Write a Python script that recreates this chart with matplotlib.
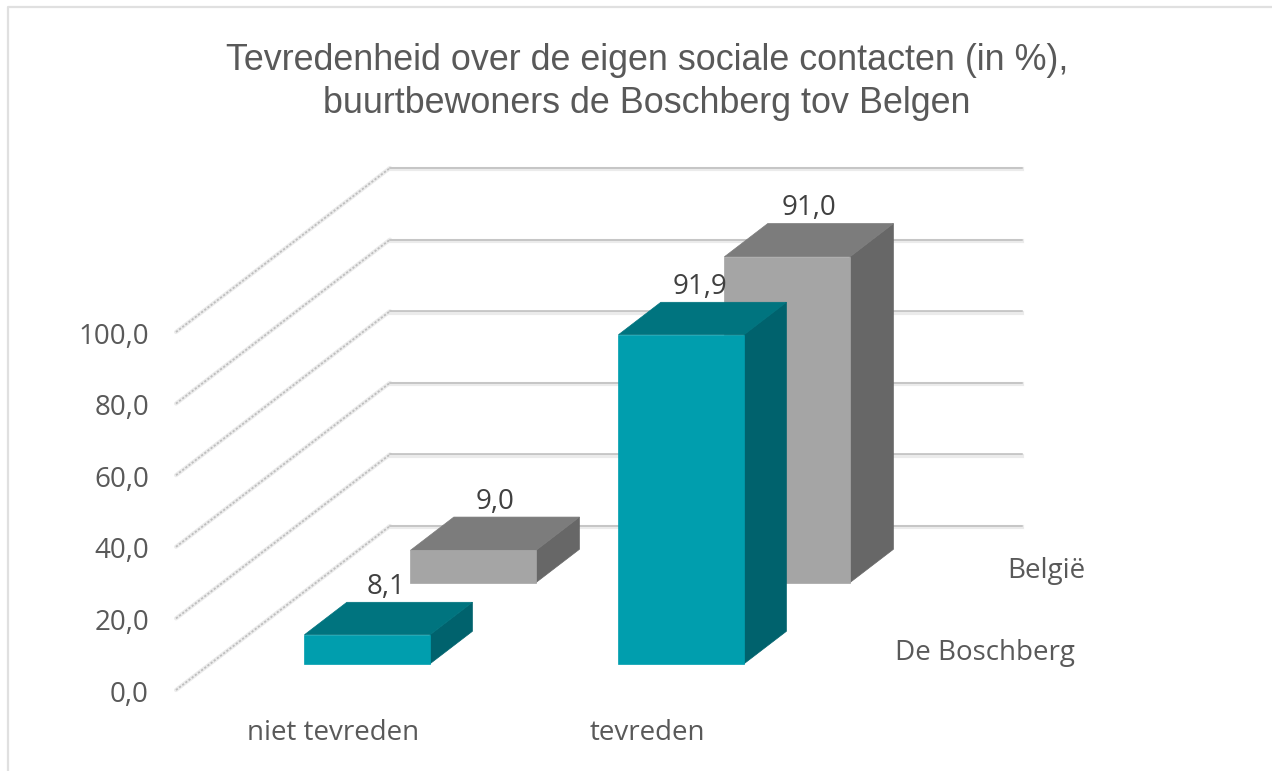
import matplotlib
matplotlib.use("Agg")
import matplotlib.pyplot as plt
from matplotlib.patches import Polygon

plt.rcParams['font.family'] = ['Open Sans', 'DejaVu Sans']

# data
categorieen = ["niet tevreden", "tevreden"]
reeksen = ["De Boschberg", "België"]
boschberg = [8.1, 91.9]
belgie = [9.0, 91.0]
labels_boschberg = ["8,1", "91,9"]
labels_belgie = ["9,0", "91,0"]
y_ticks = [0, 20, 40, 60, 80, 100]
y_labels = ["0,0", "20,0", "40,0", "60,0", "80,0", "100,0"]

W, H = 1272, 771
fig = plt.figure(figsize=(W / 100, H / 100), dpi=100, facecolor="white")

# axes: x in categories, y in percent, floor corner at (176, 690) px
ax = fig.add_axes([176 / W, (H - 690) / H, 846 / W, 523 / H])
per_cat = 314.0
per_val = 3.58
ax.set_xlim(0, 846 / per_cat)
ax.set_ylim(0, 523 / per_val)
ax.axis("off")

# oblique depth vector
dx = 214 / per_cat
dy = 164 / per_val
x_eind = (846 - 214) / per_cat


def proj(x, v, d):
    return x + d * dx, v + d * dy


# walls
for t in y_ticks:
    ax.plot(*zip(proj(0, t, 0), proj(0, t, 1)), color="#ececec", lw=3,
            solid_capstyle="round", clip_on=False, zorder=1)
    ax.plot(*zip(proj(0, t, 0), proj(0, t, 1)), color="#bebebe", lw=1.3,
            linestyle=(0, (1.2, 1)), clip_on=False, zorder=1.1)
    ax.plot(*zip(proj(0, t - 0.4, 1), proj(x_eind, t - 0.4, 1)), color="#ebebeb",
            lw=3, clip_on=False, zorder=1)
    ax.plot(*zip(proj(0, t, 1), proj(x_eind, t, 1)), color="#bcbcbc", lw=1.1,
            clip_on=False, zorder=1.1)


def bar3d(cat, v, d0, d1, c_front, c_top, c_side, zorder):
    b = 0.4
    x0, x1 = cat + 0.5 - b / 2, cat + 0.5 + b / 2
    front = [proj(x0, 0, d0), proj(x1, 0, d0), proj(x1, v, d0), proj(x0, v, d0)]
    top = [proj(x0, v, d0), proj(x1, v, d0), proj(x1, v, d1), proj(x0, v, d1)]
    side = [proj(x1, 0, d0), proj(x1, 0, d1), proj(x1, v, d1), proj(x1, v, d0)]
    for pts, c in ((side, c_side), (top, c_top), (front, c_front)):
        ax.add_patch(Polygon(pts, closed=True, fc=c, ec=c, lw=0.5,
                             clip_on=False, zorder=zorder))


# back row first
for i in range(2):
    bar3d(i, belgie[i], 0.655, 0.858, "#a5a5a5", "#7c7c7c", "#676767", 3)
for i in range(2):
    bar3d(i, boschberg[i], 0.16, 0.358, "#009eae", "#00747f", "#00626d", 4)

tekst = "#595959"
for t, lab in zip(y_ticks, y_labels):
    ax.text(-0.086, t - 1.3, lab, ha="right", va="center", fontsize=20, color=tekst,
            clip_on=False)

# value labels
for i in range(2):
    x, y = proj(i + 0.5, boschberg[i], 0.358)
    ax.text(x - 0.075, y + 4.2, labels_boschberg[i], ha="center", va="center",
            fontsize=20, color="#404040", zorder=5)
    x, y = proj(i + 0.5, belgie[i], 0.858)
    ax.text(x - 0.07, y + 4.2, labels_belgie[i], ha="center", va="center",
            fontsize=20, color="#404040", zorder=5)

# category labels
for i, c in enumerate(categorieen):
    ax.text(i + 0.5, -12, c, ha="center", va="center", fontsize=20,
            color=tekst, clip_on=False)

# series labels
fig.text(1075 / W, 1 - 653 / H, reeksen[0], ha="right", va="center",
         fontsize=20, color=tekst)
fig.text(1085 / W, 1 - 571 / H, reeksen[1], ha="right", va="center",
         fontsize=20, color=tekst)

# title
fig.text(647 / W, 1 - 82 / H,
         "Tevredenheid over de eigen sociale contacten (in %),\nbuurtbewoners de Boschberg tov Belgen",
         ha="center", va="center", fontsize=25.8, color=tekst, linespacing=1.27,
         family=["Liberation Sans", "DejaVu Sans"])

# chart frame
fig.add_artist(plt.Line2D([8 / W, 8 / W, 1], [0, 1 - 7 / H, 1 - 7 / H],
                          color="#e0e0e0", lw=1.6))

fig.savefig("out.png", dpi=100)
